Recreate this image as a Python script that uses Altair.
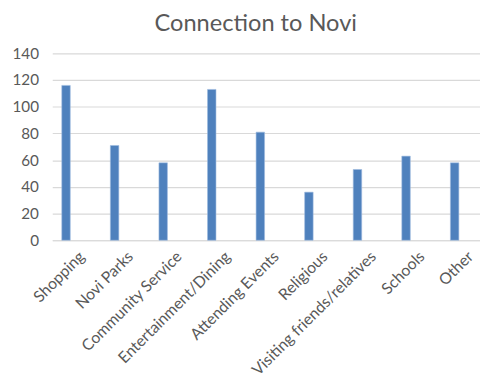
import altair as alt
import pandas as pd

categories = ["Shopping", "Novi Parks", "Community Service", "Entertainment/Dining",
              "Attending Events", "Religious", "Visiting friends/relatives", "Schools", "Other"]
counts = [116, 71, 58, 113, 81, 36, 53, 63, 58]
y_ticks = [0, 20, 40, 60, 80, 100, 120, 140]

df = pd.DataFrame({"category": categories, "count": counts})

FONT = "Lato"
GREY = "#595959"

chart = alt.Chart(df).mark_bar(
    color="#4F81BD", width=8.6, xOffset=-10.7,
    stroke="#9DB9DE", strokeWidth=0.6
).encode(
    x=alt.X("category:N", sort=categories, title=None,
            scale=alt.Scale(range=[0, 444.6], paddingInner=0, paddingOuter=0),
            axis=alt.Axis(labelAngle=-45, labelFontSize=16, labelColor=GREY, labelFont=FONT,
                          ticks=False, domainColor="#D9D9D9", domainWidth=1.2,
                          labelPadding=8, labelAlign="right", labelBaseline="top")),
    y=alt.Y("count:Q", title=None,
            scale=alt.Scale(domain=[0, 140], nice=False),
            axis=alt.Axis(values=y_ticks, labelFontSize=15.5, labelColor=GREY, labelFont=FONT,
                          ticks=False, domain=False, gridColor="#D9D9D9", gridWidth=1.2,
                          labelPadding=14)),
).properties(
    width=435, height=190,
    title=alt.TitleParams("Connection to Novi", fontSize=24, font=FONT, fontWeight="normal",
                          color=GREY, anchor="start", offset=11, dx=145),
    autosize=alt.AutoSizeParams(type="none"),
    padding={"left": 45, "top": 43, "right": 0, "bottom": 140},
).configure_view(stroke=None)

chart.save("out.html", embed_options={"renderer": "svg", "actions": False})
